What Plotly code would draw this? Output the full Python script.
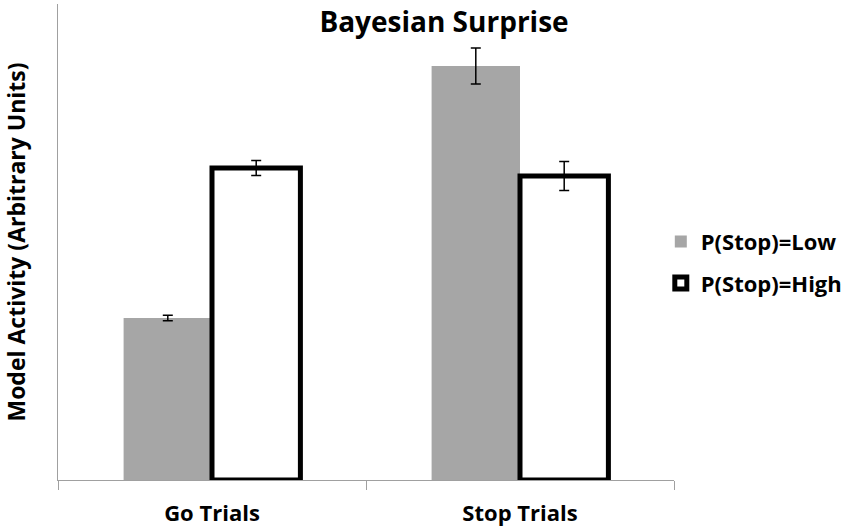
import plotly.graph_objects as go

categories = ["Go Trials", "Stop Trials"]
low_values = [1.62, 4.14]
low_errors = [0.027, 0.18]
high_values = [3.12, 3.04]
high_errors = [0.075, 0.145]
series_names = ["P(Stop)=Low", "P(Stop)=High"]

FONT = "Open Sans"

fig = go.Figure()
fig.add_trace(go.Bar(
    x=categories, y=low_values, name=series_names[0], legendgroup="a",
    marker=dict(color="#A6A6A6", line=dict(width=0)),
    error_y=dict(type="data", array=low_errors, visible=True,
                 color="black", thickness=1.5, width=5),
))
fig.add_trace(go.Bar(
    x=categories, y=high_values, name=series_names[1], legendgroup="b",
    marker=dict(color="white", line=dict(color="black", width=5)),
    error_y=dict(type="data", array=high_errors, visible=True,
                 color="black", thickness=1.5, width=5),
))

fig.update_layout(
    width=850, height=530,
    paper_bgcolor="white", plot_bgcolor="white",
    margin=dict(l=58, r=175, t=4, b=50),
    barmode="group", bargap=0.426, bargroupgap=0,
    font=dict(family=FONT, color="black"),
    title=dict(text="Bayesian Surprise", x=444/850, xref="container",
               xanchor="center", y=1-22/530, yref="container", yanchor="middle",
               font=dict(family=FONT, size=28, color="black", weight="bold")),
    legend=dict(x=0.977, xanchor="left", y=0.545, yanchor="top",
                font=dict(family=FONT, size=22, color="black", weight="bold"),
                tracegroupgap=10, bgcolor="rgba(0,0,0,0)"),
    showlegend=True,
)
fig.update_xaxes(
    showline=True, linecolor="#A0A0A0", linewidth=1,
    ticks="outside", tickson="boundaries", ticklen=9, tickcolor="#A0A0A0",
    ticklabelstandoff=14,
    tickfont=dict(family=FONT, size=22, color="black", weight="bold"),
    showgrid=False, zeroline=False,
)
fig.update_yaxes(
    range=[0, 4.76], showline=True, linecolor="#A0A0A0", linewidth=1,
    showticklabels=False, ticks="", showgrid=False, zeroline=False,
    title=dict(text="Model Activity (Arbitrary Units)", standoff=30,
               font=dict(family=FONT, size=23, color="black", weight="bold")),
)

fig.write_html("out.html", config={"displayModeBar": False},
               post_script="document.body.style.margin='0px';")
